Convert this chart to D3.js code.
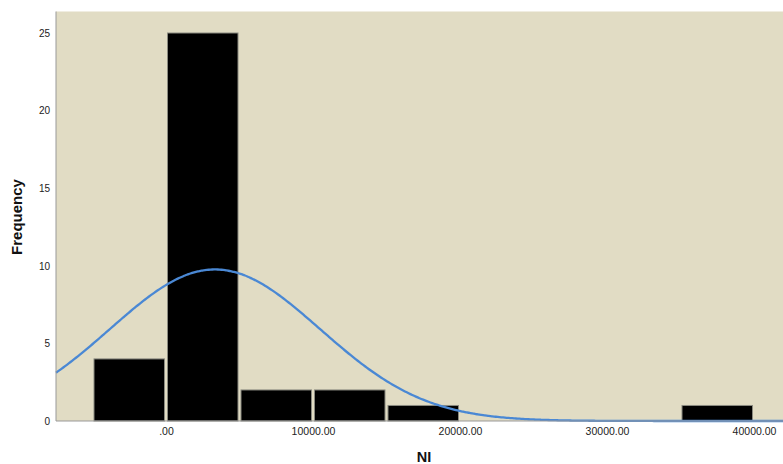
<!DOCTYPE html>
<html><head><meta charset="utf-8">
<script src="https://cdn.jsdelivr.net/npm/d3@7"></script>
<style>body{margin:0;background:#fff}svg{display:block}</style>
</head><body>
<svg id="c" width="783" height="464"></svg>
<script>
const binStarts = [-5000, 0, 5000, 10000, 15000, 35000];
const binWidth = 5000;
const frequencies = [4, 25, 2, 2, 1, 1];
const yTicks = [0, 5, 10, 15, 20, 25];
const xTicks = [0, 10000, 20000, 30000, 40000];
const xTickLabels = [".00", "10000.00", "20000.00", "30000.00", "40000.00"];
const curveMean = 3330, curveSd = 7150, curveN = 35;

const svg = d3.select("#c");
const L = 56, R = 783, T = 11.5, B = 421;
const x = d3.scaleLinear().domain([-7483, 41973]).range([L, R]);
const y = d3.scaleLinear().domain([0, 25]).range([B, 33]);

svg.append("rect").attr("x", L).attr("y", T).attr("width", R - L).attr("height", B - T).attr("fill", "#e1dcc4");

const data = binStarts.map((s, i) => ({x0: s, x1: s + binWidth, f: frequencies[i]}));
svg.selectAll("rect.bar").data(data).enter().append("rect").attr("class", "bar")
  .attr("x", d => x(d.x0) + 1.5).attr("width", d => x(d.x1) - x(d.x0) - 3)
  .attr("y", d => y(d.f)).attr("height", d => y(0) - y(d.f))
  .attr("fill", "#000").attr("stroke", "#8a8a80").attr("stroke-width", 1);

const pdf = v => curveN * binWidth / (curveSd * Math.sqrt(2 * Math.PI)) * Math.exp(-0.5 * Math.pow((v - curveMean) / curveSd, 2));
const pts = d3.range(0, 401).map(i => { const v = x.invert(L + (R - L) * i / 400); return [v, pdf(v)]; });
svg.append("path").datum(pts)
  .attr("d", d3.line().x(d => x(d[0])).y(d => y(d[1])).curve(d3.curveBasis))
  .attr("fill", "none").attr("stroke", "#4a88d4").attr("stroke-width", 2.3);

// axes
const ya = svg.append("g").attr("transform", `translate(${L},0)`)
  .call(d3.axisLeft(y).tickValues(yTicks).tickSize(0).tickPadding(6).tickFormat(d3.format("d")));
ya.select(".domain").attr("stroke", "#999").attr("d", `M0,${T}V${B}`);
ya.selectAll("text").attr("font-family", "Liberation Sans, Arial, sans-serif").attr("font-size", 10).attr("fill", "#222");

const xa = svg.append("g").attr("transform", `translate(0,${B})`)
  .call(d3.axisBottom(x).tickValues(xTicks).tickSize(0).tickPadding(7).tickFormat((d, i) => xTickLabels[i]));
xa.select(".domain").attr("stroke", "#999").attr("d", `M${L},0H${R}`);
xa.selectAll("text").attr("font-family", "Liberation Sans, Arial, sans-serif").attr("font-size", 10.5).attr("fill", "#222");

svg.append("text").attr("transform", "translate(22,217) rotate(-90)").attr("text-anchor", "middle")
  .attr("font-family", "Liberation Sans, Arial, sans-serif").attr("font-weight", "bold").attr("font-size", 15).attr("fill", "#111")
  .text("Frequency");
svg.append("text").attr("x", 424).attr("y", 461.5).attr("text-anchor", "middle")
  .attr("font-family", "Liberation Sans, Arial, sans-serif").attr("font-weight", "bold").attr("font-size", 14.5).attr("fill", "#111")
  .text("NI");
</script>
</body></html>
